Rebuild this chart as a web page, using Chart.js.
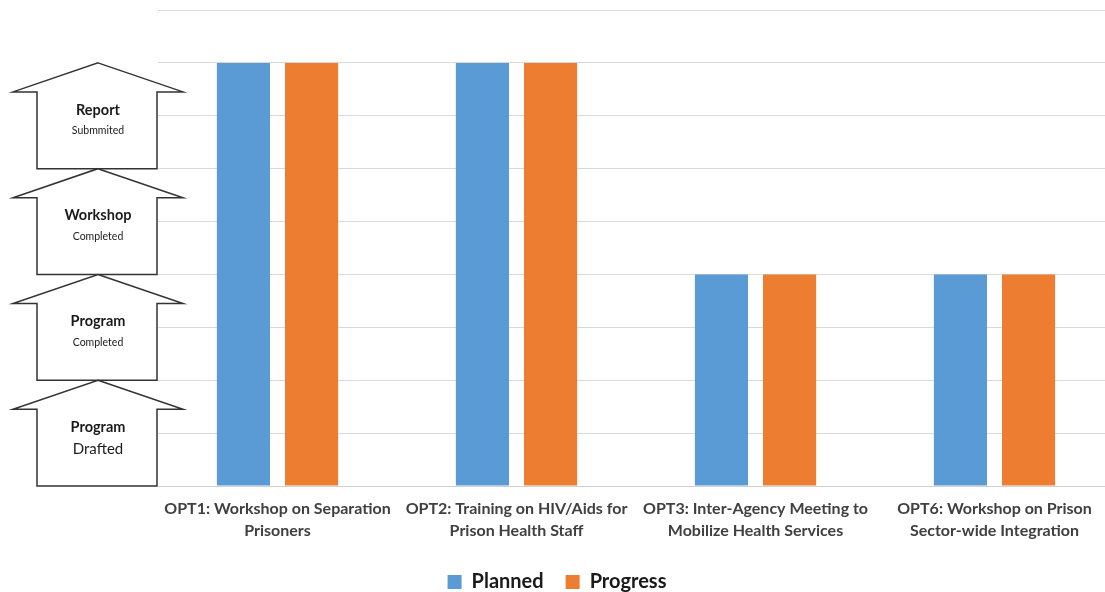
<!DOCTYPE html>
<html>
<head>
<meta charset="utf-8">
<script src="https://cdn.jsdelivr.net/npm/chart.js@4"></script>
<style>
  html, body { margin: 0; padding: 0; background: #fff; overflow: hidden; }
  #wrap { width: 1114px; height: 592px; }
</style>
</head>
<body>
<div id="wrap"><canvas id="myChart"></canvas></div>
<script>
const categories = [
    ['OPT1: Workshop on Separation', 'Prisoners'],
    ['OPT2: Training on HIV/Aids for', 'Prison Health Staff'],
    ['OPT3: Inter-Agency Meeting to', 'Mobilize Health Services'],
    ['OPT6: Workshop on Prison', 'Sector-wide Integration']
];
const planned = [8, 8, 4, 4];
const progress = [8, 8, 4, 4];

// stages shown as arrows on the left, each spanning [from, to] on the value axis
const stageTitles = ['Report', 'Workshop', 'Program', 'Program'];
const stageNotes = ['Submmited', 'Completed', 'Completed', 'Drafted'];
const stageFrom = [6, 4, 2, 0];
const stageTo = [8, 6, 4, 2];

const stageArrows = {
    id: 'stageArrows',
    afterDraw(chart) {
        const ctx = chart.ctx;
        const y = chart.scales.y;
        ctx.save();
        for (let i = 0; i < stageTitles.length; i++) {
            const top = y.getPixelForValue(stageTo[i]);
            const bottom = y.getPixelForValue(stageFrom[i]);
            const wing = top + 29;
            ctx.beginPath();
            ctx.moveTo(98, top);
            ctx.lineTo(183, wing);
            ctx.lineTo(157, wing);
            ctx.lineTo(157, bottom);
            ctx.lineTo(37, bottom);
            ctx.lineTo(37, wing);
            ctx.lineTo(13, wing);
            ctx.closePath();
            ctx.fillStyle = '#fff';
            ctx.fill();
            ctx.lineWidth = 1.5;
            ctx.strokeStyle = '#333';
            ctx.stroke();

            ctx.fillStyle = '#1a1a1a';
            ctx.textAlign = 'center';
            ctx.textBaseline = 'middle';
            ctx.font = 'bold 14.5px Lato';
            ctx.fillText(stageTitles[i], 98, top + 47);
            ctx.font = i === 3 ? '15px Lato' : '10.5px Lato';
            ctx.fillText(stageNotes[i], 98, top + (i === 3 ? 69 : 68));
        }
        ctx.restore();
    }
};

const ctx = document.getElementById('myChart').getContext('2d');

const myChart = new Chart(ctx, {
    type: 'bar',
    data: {
        labels: categories,
        datasets: [{
            label: 'Planned',
            data: planned,
            backgroundColor: '#5B9BD5'
        }, {
            label: 'Progress',
            data: progress,
            backgroundColor: '#ED7D31'
        }]
    },
    options: {
        responsive: true,
        maintainAspectRatio: false,
        animation: false,
        categoryPercentage: 0.57,
        barPercentage: 0.78,
        layout: {
            padding: { left: 0, top: 10, right: 0, bottom: -10 }
        },
        plugins: {
            tooltip: { enabled: false },
            legend: {
                position: 'bottom',
                labels: {
                    boxWidth: 14,
                    boxHeight: 14,
                    padding: 22,
                    color: '#1a1a1a',
                    font: { family: 'Lato', size: 20, weight: 'bold' }
                }
            }
        },
        scales: {
            y: {
                min: 0,
                max: 9,
                afterFit(scale) { scale.width = 158; },
                ticks: { display: false, stepSize: 1 },
                grid: { color: '#d9d9d9', drawTicks: false },
                border: { display: false }
            },
            x: {
                grid: { display: false },
                border: { color: '#d0d0d0' },
                afterFit(scale) { scale.height += 4; },
                ticks: {
                    padding: 4,
                    maxRotation: 0,
                    autoSkip: false,
                    color: '#404040',
                    font: { family: 'Lato', size: 16, weight: 'bold', lineHeight: '22px' }
                }
            }
        }
    },
    plugins: [stageArrows]
});
</script>
</body>
</html>
